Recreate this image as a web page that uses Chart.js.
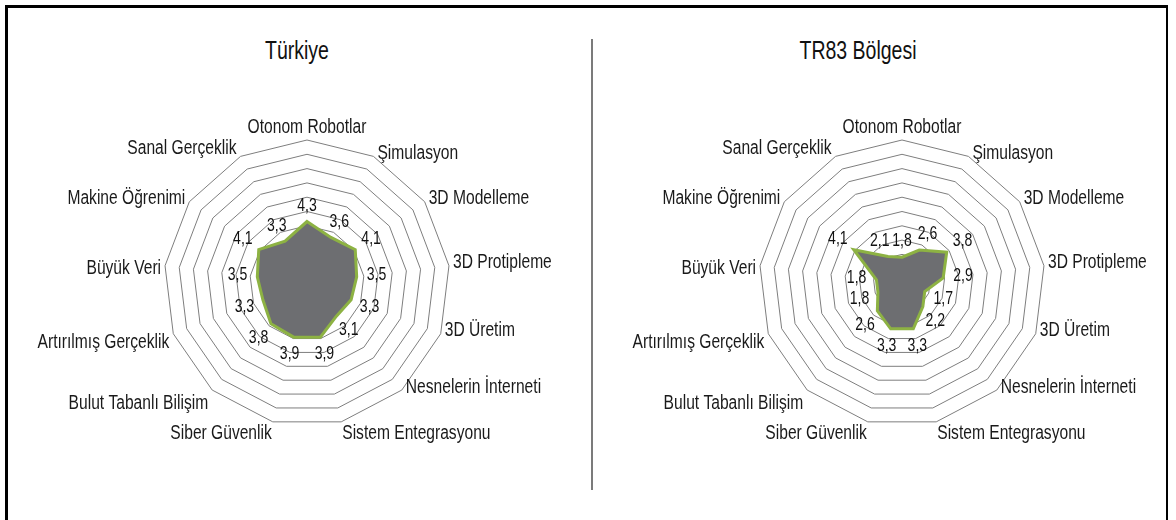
<!DOCTYPE html>
<html lang="tr">
<head>
<meta charset="utf-8">
<title>Sanayi 4.0 teknolojileri</title>
<script src="https://cdn.jsdelivr.net/npm/chart.js@4.4.1/dist/chart.umd.min.js"></script>
<style>
  html, body { margin: 0; padding: 0; background: #fff; }
  body {
    width: 1176px; height: 520px; position: relative; overflow: hidden;
    font-family: "Liberation Sans", Arial, sans-serif;
  }
  .frame {
    position: absolute; left: 5px; top: 5px; width: 1158px; height: 560px;
    border-left: 3px solid #000; border-top: 3px solid #000; border-right: 2px solid #000;
  }
  .divider { position: absolute; left: 591px; top: 39px; width: 2px; height: 451px; background: #7b7b7b; }
  .title {
    position: absolute; top: 36px; line-height: 28px; font-size: 25px; color: #111;
    transform: translateX(-50%) scaleX(0.78); white-space: nowrap;
  }
  canvas { position: absolute; top: 0; }
</style>
</head>
<body>
<div class="frame"></div>
<div class="divider"></div>
<div class="title" style="left:297px">Türkiye</div>
<div class="title" style="left:858px">TR83 Bölgesi</div>
<canvas id="chart-tr" width="592" height="520" style="left:0"></canvas>
<canvas id="chart-tr83" width="584" height="520" style="left:592px"></canvas>

<script>
const categories = [
  "Otonom Robotlar", "Şimulasyon", "3D Modelleme", "3D Protipleme", "3D Üretim",
  "Nesnelerin İnterneti", "Sistem Entegrasyonu", "Siber Güvenlik", "Bulut Tabanlı Bilişim",
  "Artırılmış Gerçeklik", "Büyük Veri", "Makine Öğrenimi", "Sanal Gerçeklik"
];
const turkiyeValues = [4.3, 3.6, 4.1, 3.5, 3.3, 3.1, 3.9, 3.9, 3.8, 3.3, 3.5, 4.1, 3.3];
const tr83Values = [1.8, 2.6, 3.8, 2.9, 1.7, 2.2, 3.3, 3.3, 2.6, 1.8, 1.8, 4.1, 2.1];
const scaleMin = 0;
const scaleMax = 10;
const scaleStep = 1;

const FONT = '"Liberation Sans", Arial, sans-serif';
const RADIUS = 143;
const CENTER_Y = 283;

// fillText squeezed horizontally (condensed look); alignment handled here
function narrowText(ctx, text, x, y, align, squeeze) {
  const w = ctx.measureText(text).width * squeeze;
  let left = x;
  if (align === "center") left = x - w / 2;
  else if (align === "right") left = x - w;
  ctx.save();
  ctx.textAlign = "left";
  ctx.translate(left, y);
  ctx.scale(squeeze, 1);
  ctx.fillText(text, 0, 0);
  ctx.restore();
}

// category names around the outer ring, side-aligned like a spreadsheet radar
const spokeLabels = {
  id: "spokeLabels",
  afterDraw(chart) {
    const scale = chart.scales.r;
    const ctx = chart.ctx;
    const R = scale.drawingArea;
    ctx.save();
    ctx.font = "20px " + FONT;
    ctx.fillStyle = "#1a1a1a";
    scale.getLabels().forEach((label, i) => {
      const a = scale.getIndexAngle(i);
      const s = Math.sin(a), c = Math.cos(a);
      const p = scale.getPointPosition(i, R);
      if (Math.abs(s) < 0.05) {
        ctx.textBaseline = "alphabetic";
        narrowText(ctx, label, p.x, p.y - 7, "center", 0.78);
        return;
      }
      const right = s > 0;
      const align = right ? "left" : "right";
      if (c < -0.9) {
        ctx.textBaseline = "top";
        narrowText(ctx, label, p.x + (right ? 1 : -1), p.y + 2, align, 0.78);
      } else {
        // left-hand names sit a little lower than the right-hand ones
        const dy = right ? -3 : 4 - 13 * c;
        ctx.textBaseline = "middle";
        narrowText(ctx, label, p.x + (right ? 4 : -4), p.y + dy, align, 0.78);
      }
    });
    ctx.restore();
  }
};

// value just outside each vertex, decimal comma
const valueLabels = {
  id: "valueLabels",
  afterDatasetsDraw(chart) {
    const scale = chart.scales.r;
    const ctx = chart.ctx;
    ctx.save();
    ctx.font = "19px " + FONT;
    ctx.fillStyle = "#111";
    ctx.textBaseline = "middle";
    chart.data.datasets[0].data.forEach((v, i) => {
      const gap = 16 + 4 * Math.abs(Math.sin(scale.getIndexAngle(i)));
      const p = scale.getPointPosition(i, scale.getDistanceFromCenterForValue(v) + gap);
      narrowText(ctx, v.toFixed(1).replace(".", ","), p.x, p.y, "center", 0.74);
    });
    ctx.restore();
  }
};

function makeRadar(id, values, centerX) {
  const canvas = document.getElementById(id);
  const side = RADIUS * 2 + 1;
  const left = Math.round(centerX - side / 2);
  const top = Math.round(CENTER_Y - side / 2);
  return new Chart(canvas, {
    type: "radar",
    data: {
      labels: categories,
      datasets: [{
        data: values,
        backgroundColor: "#6d6e71",
        borderColor: "#8db243",
        borderWidth: 3,
        pointRadius: 0,
        fill: true,
        tension: 0
      }]
    },
    options: {
      responsive: false,
      animation: false,
      layout: {
        padding: { left: left, top: top, right: canvas.width - left - side, bottom: canvas.height - top - side }
      },
      plugins: { legend: { display: false }, tooltip: { enabled: false } },
      scales: {
        r: {
          min: scaleMin,
          max: scaleMax,
          ticks: { display: false, stepSize: scaleStep },
          grid: { color: "#7e7e7e", lineWidth: 1 },
          angleLines: { display: false },
          pointLabels: { display: false }
        }
      }
    },
    plugins: [spokeLabels, valueLabels]
  });
}

makeRadar("chart-tr", turkiyeValues, 307.5);
makeRadar("chart-tr83", tr83Values, 310.5);
</script>
</body>
</html>
